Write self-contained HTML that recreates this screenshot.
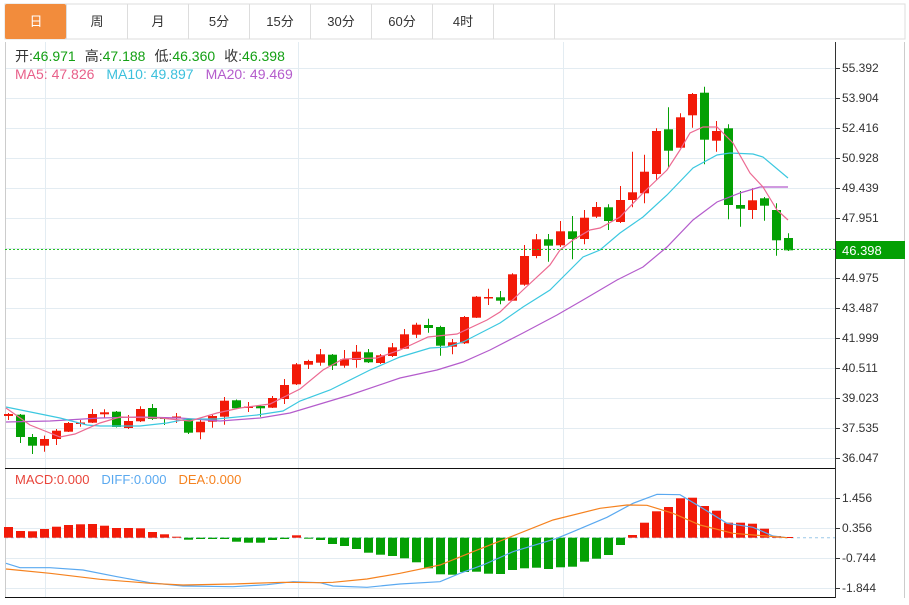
<!DOCTYPE html>
<html><head><meta charset="utf-8"><style>
body{margin:0;background:#fff;width:909px;height:600px;overflow:hidden;font-family:"Liberation Sans","Noto Sans CJK SC",sans-serif}
</style></head><body>
<svg id="s" width="909" height="600" xmlns="http://www.w3.org/2000/svg" font-family="Liberation Sans, Noto Sans CJK SC, sans-serif">
<rect x="0" y="0" width="909" height="600" fill="#fff"/>
<g id="tabs" font-size="13" fill="#333" text-anchor="middle">
<rect x="5" y="4" width="900" height="35" fill="#fff" stroke="#ddd"/>
<rect x="5" y="4" width="61" height="35" fill="#f28c3c" rx="2"/>
<text x="36" y="26" fill="#fff">日</text>
<text x="97" y="26">周</text><text x="158" y="26">月</text><text x="219" y="26">5分</text>
<text x="280" y="26">15分</text><text x="341" y="26">30分</text><text x="402" y="26">60分</text><text x="463" y="26">4时</text>
<g stroke="#ddd"><line x1="66.5" y1="4" x2="66.5" y2="39"/><line x1="127.5" y1="4" x2="127.5" y2="39"/><line x1="188.5" y1="4" x2="188.5" y2="39"/><line x1="249.5" y1="4" x2="249.5" y2="39"/><line x1="310.5" y1="4" x2="310.5" y2="39"/><line x1="371.5" y1="4" x2="371.5" y2="39"/><line x1="432.5" y1="4" x2="432.5" y2="39"/><line x1="493.5" y1="4" x2="493.5" y2="39"/><line x1="554.5" y1="4" x2="554.5" y2="39"/></g>
</g>
<g id="grid" stroke="#e3ecf2" stroke-width="1"></g>
<g id="cd"></g>
<g id="ma" fill="none" stroke-width="1.2"></g>
<g id="mc"></g>
<g id="ax" font-size="12" fill="#333"></g>
<g font-size="14">
<text x="15" y="61"><tspan fill="#333">开:</tspan><tspan fill="#14a014">46.971</tspan><tspan fill="#333" dx="9">高:</tspan><tspan fill="#14a014">47.188</tspan><tspan fill="#333" dx="9">低:</tspan><tspan fill="#14a014">46.360</tspan><tspan fill="#333" dx="9">收:</tspan><tspan fill="#14a014">46.398</tspan></text>
<text x="15" y="79"><tspan fill="#e8608a">MA5: 47.826</tspan><tspan fill="#3cc0dc" dx="12">MA10: 49.897</tspan><tspan fill="#b45ccc" dx="12">MA20: 49.469</tspan></text>
<text x="15" y="484" font-size="13"><tspan fill="#e8443a">MACD:0.000</tspan><tspan fill="#5aa9f0" dx="12">DIFF:0.000</tspan><tspan fill="#f5821f" dx="12">DEA:0.000</tspan></text>
</g>
</svg>
<script>
var NS="http://www.w3.org/2000/svg";
function el(p,t,a){var e=document.createElementNS(NS,t);for(var k in a)e.setAttribute(k,a[k]);document.getElementById(p).appendChild(e);return e;}
var R="#f21a08",G="#04a004";
var py=[68,98,128,158,188,218,248,278,308,338,368,398,428,458],pl=["55.392","53.904","52.416","50.928","49.439","47.951","","44.975","43.487","41.999","40.511","39.023","37.535","36.047"];
py.forEach(function(y,i){el("grid","line",{x1:5,x2:835,y1:y+.5,y2:y+.5});if(pl[i]){el("ax","line",{x1:835,x2:840,y1:y+.5,y2:y+.5,stroke:"#333"});el("ax","text",{x:842,y:y+4}).textContent=pl[i];}});
var my=[498,528,558,588],ml=["1.456","0.356","-0.744","-1.844"];
my.forEach(function(y,i){el("grid","line",{x1:5,x2:835,y1:y+.5,y2:y+.5});el("ax","line",{x1:835,x2:840,y1:y+.5,y2:y+.5,stroke:"#333"});el("ax","text",{x:842,y:y+4}).textContent=ml[i];});
[45,298,563].forEach(function(x){el("grid","line",{x1:x+.5,x2:x+.5,y1:42,y2:598});});
el("grid","line",{x1:5.5,x2:5.5,y1:42,y2:598,stroke:"#ccc"});
el("grid","line",{x1:904.5,x2:904.5,y1:42,y2:598,stroke:"#ccc"});
el("ax","line",{x1:835.5,x2:835.5,y1:42,y2:598,stroke:"#333"});
el("ax","line",{x1:5,x2:835,y1:468.5,y2:468.5,stroke:"#111"});
el("ax","line",{x1:5,x2:835,y1:597.5,y2:597.5,stroke:"#111"});
el("ax","line",{x1:5,x2:835,y1:249.5,y2:249.5,stroke:"#22c022","stroke-dasharray":"2,2"});
el("ax","rect",{x:836,y:241,width:69,height:18,fill:"#04a004"});
var t=el("ax","text",{x:842,y:255,fill:"#fff","font-size":"13"});t.textContent="46.398";
var c=[[414,416,413,420,R],[414.7,437,414,443,G],[437,445.7,434,454,G],[439,445.7,435.6,451.7,R],[430.7,439,429,445,R],[423,431.7,422,432,R],[422.5,424,420,426.7,R],[414,422.7,409,423,R],[412.3,414.3,409.3,418,R],[411.7,427,411,427.5,G],[421,428,415,429,R],[409,421.3,406.3,422,R],[408,419,404,420,G],[417.5,419,417,425,G],[416.5,418,413,423,R],[419,432.7,418,434,G],[421.7,432.3,420,439.3,R],[416,421.7,415,427.7,R],[400.7,416.7,397,424.7,R],[400.3,408.3,399.5,409,G],[406.5,408,402,412,R],[406,408.3,405,416.7,G],[398,407.7,396,408,R],[385,399,379,404,R],[364.3,384.3,363,385,R],[361,364.7,359.7,369,R],[354.3,362.7,349,365.7,R],[354.7,365.7,354,370,G],[359.3,365.7,350,367.7,R],[351.7,360,345,367.7,R],[352.3,362.3,349,363,G],[355.3,363,354,364,R],[347.3,356,343,357,R],[334.3,348.7,329,349,R],[324.7,334.7,322.7,338,R],[325,328,318.7,332.7,G],[327,345.7,325.7,355.7,G],[342.3,346.7,339,354.3,R],[317,343.3,316,344,R],[296.7,317.7,296,318,R],[297,298.5,288.7,305,R],[297.3,300.7,291,304.3,G],[274.3,300.7,273.3,301,R],[256,284.7,245,285.7,R],[239.3,256,234,258.3,R],[239.3,245.7,234,261.7,G],[231.3,245.3,221,247,R],[231.3,239,216,259.3,G],[217.7,239,210,244.3,R],[207,216.7,202,218,R],[207.3,221,204.3,230,G],[200,222,186,223,R],[192.3,200,151.7,207.3,R],[171.7,193.3,154.7,203.3,R],[131,174,128.3,180,R],[129.3,150.7,107.3,167.3,G],[117.3,147.7,113.3,148,R],[94,115.3,93,127.7,R],[92.7,139.7,86.7,164.3,G],[131,140.7,121,151.7,R],[128.3,205,124.3,219.3,G],[205,208.7,191,226.7,G],[200.3,210,188.3,219,R],[198.3,205.7,197,220.7,G],[210,240.3,203.3,255.7,G],[238,250.3,233.3,251,G]];
c.forEach(function(d,i){var x=8.5+12*i;el("cd","line",{x1:x,x2:x,y1:d[2],y2:d[3],stroke:d[4],"stroke-width":1});var h=Math.max(1.5,d[1]-d[0]);el("cd","rect",{x:x-4.5,y:d[0],width:9,height:h,fill:d[4]});});
function pl2(g,col,pts,w){el(g,"polyline",{points:pts.map(function(p){return p.join(",")}).join(" "),stroke:col,"stroke-width":w||1.2,fill:"none"});}
pl2("ma","#b45ccc",[[6,422],[50,421],[100,418],[140,417],[180,418],[220,421],[260,418],[290,413],[300,410],[350,395],[400,378],[437,370],[463,362],[490,350],[523,333],[557,315],[583,300],[617,280],[643,267],[667,247],[693,220],[717,202],[740,193],[760,187],[788,187]]);
pl2("ma","#3cc8e0",[[6,407],[60,418],[87,425],[100,426],[140,426],[167,423],[187,419],[217,419],[257,415],[283,411],[300,401],[330,390],[370,370],[400,357],[430,348],[447,347],[463,342],[500,323],[523,307],[550,290],[563,277],[583,257],[600,250],[620,233],[643,217],[667,195],[693,168],[717,155],[730,153],[753,154],[763,157],[788,178]]);
pl2("ma","#ec6a92",[[6,408],[30,425],[60,437],[75,434],[100,423],[120,417],[160,418],[190,421],[217,413],[240,408],[270,404],[300,389],[323,370],[343,359],[377,358],[400,350],[428,337],[457,334],[487,320],[500,312],[523,290],[550,265],[560,250],[573,240],[590,230],[600,228],[620,217],[643,193],[667,170],[680,150],[690,133],[703,127],[717,127],[733,143],[750,173],[763,187],[777,210],[788,220]]);
var Z=537.7;
var mb=[527,531,531.3,529,526.7,525,524.3,524,525.7,528,528,528.3,532,534.3,536.7,539.7,539,539,539,541.7,542.7,542.7,540,539,535.3,538.5,540,544,546,549,552.7,554.7,556,558.3,562.3,568.3,574.3,574.7,572,571.7,573.7,574,570,568.3,567.7,569,567.3,566.7,561.7,558.7,555,545,535,522.7,511.3,507,498.3,497.7,506,510.7,522.7,522.7,523.7,528.7,536,537];
el("mc","line",{x1:5,x2:835,y1:Z,y2:Z,stroke:"#9cc8e8","stroke-dasharray":"3,3"});
mb.forEach(function(v,i){var x=8.5+12*i;var up=v<Z;el("mc","rect",{x:x-4.5,y:Math.min(v,Z),width:9,height:Math.max(1,Math.abs(v-Z)),fill:up?R:G});});
pl2("mc","#5aa9f0",[[6,563.3],[20,567.7],[50,567.7],[83,570],[117,576.7],[150,582.7],[183,586],[233,586.7],[267,584.7],[293,581.7],[320,582.7],[333,586],[367,587.3],[400,584],[440,581.7],[460,573.3],[483,565],[513,551.7],[557,538.3],[573,531.7],[607,517.3],[633,503.3],[657,494.3],[680,494.7],[700,506.7],[727,523.3],[753,527.3],[773,536],[787,537.7]]);
pl2("mc","#f5821f",[[6,569],[50,573.3],[100,579.3],[150,583.3],[183,585],[233,584],[283,582.3],[320,582.7],[333,582.3],[367,579],[400,573.3],[440,565],[473,551.7],[507,538.3],[553,520],[600,508.3],[627,505],[647,505.3],[673,513.3],[700,525],[733,533.3],[787,537.7]]);
</script>
</body></html>
